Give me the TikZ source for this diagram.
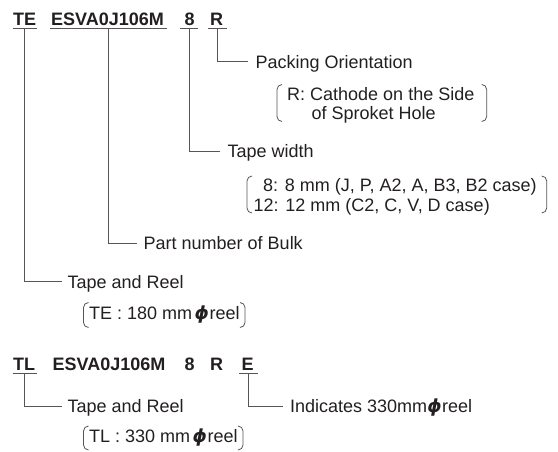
\documentclass[tikz,border=0pt]{standalone}
\usepackage{fontspec}
\setmainfont{Liberation Sans}
\newfontfamily\phifont{DejaVu Sans}
\usetikzlibrary{calc}
\definecolor{ink}{HTML}{231F20}
\definecolor{rulec}{HTML}{555555}
\tikzset{
  code/.style={font=\fontsize{18}{20}\selectfont\bfseries, text=ink, inner sep=0pt, anchor=base west},
  lbl/.style={font=\fontsize{18}{20}\selectfont, text=ink, inner sep=0pt, anchor=base west},
  uline/.style={draw=rulec, line width=0.9pt},
  conn/.style={draw=rulec, line width=0.9pt},
  brk/.style={draw=rulec, line width=0.8pt, rounded corners=5pt},
}
\newcommand{\phisym}{{\phifont\bfseries\itshape ϕ}}
\newcommand{\Lbrk}[3]{\draw[brk] (#1+5,#2) -- (#1,#2) -- (#1,#3) -- (#1+5,#3);}
\newcommand{\Rbrk}[3]{\draw[brk] (#1-5,#2) -- (#1,#2) -- (#1,#3) -- (#1-5,#3);}
\begin{document}
\begin{tikzpicture}[x=1pt,y=-1pt]
\useasboundingbox (0,0) rectangle (558,451);

% ---- first code row ----
\node[code] (te) at (13,25) {TE};
\node[code] (esva) at (51,25) {ESVA0J106M};
\node[code] (w8) at (184.5,25) {8};
\node[code] (r) at (210,25) {R};

\coordinate (teU) at (24.7,28.3);
\coordinate (esU) at (108.3,28.3);
\coordinate (w8U) at (189,28.3);
\coordinate (rU) at (217.3,28.3);
\draw[uline] (12.7,28.3) -- (36.7,28.3);
\draw[uline] (50,28.3) -- (166.7,28.3);
\draw[uline] (180,28.3) -- (198,28.3);
\draw[uline] (208,28.3) -- (226.7,28.3);

% labels
\node[lbl] (pack) at (255.5,68) {Packing Orientation};
\node[lbl] (pk1) at (287,100) {R: Cathode on the Side};
\node[lbl] (pk2) at (311.5,119) {of Sproket Hole};
\node[lbl] (tw) at (227.5,157.5) {Tape width};
\node[lbl] (tw1) at (263,191) {8: 8 mm (J, P, A2, A, B3, B2 case)};
\node[lbl] (tw2) at (253.5,211) {12: 12 mm (C2, C, V, D case)};
\node[lbl] (part) at (143.5,249.8) {Part number of Bulk};
\node[lbl] (tr1) at (67.5,288.2) {Tape and Reel};
\node[lbl] (te1) at (89,319.5) {TE : 180 mm\hspace{2.5pt}\phisym\hspace{0.5pt}reel};

\coordinate (packIn) at ($(pack.base west)+(-8,-6.4)$);
\coordinate (twIn) at ($(tw.base west)+(-7.5,-6.4)$);
\coordinate (partIn) at ($(part.base west)+(-7,-6.4)$);
\coordinate (tr1In) at ($(tr1.base west)+(-6,-6.4)$);

\draw[conn] (rU) |- (packIn);
\draw[conn] (w8U) |- (twIn);
\draw[conn] (esU) |- (partIn);
\draw[conn] (teU) |- (tr1In);

\Lbrk{277}{84.5}{121.5}
\Rbrk{486.7}{84.5}{121.5}
\Lbrk{247}{176}{213}
\Rbrk{546.7}{176}{213}
\Lbrk{83.5}{302.5}{327.5}
\Rbrk{245}{302.5}{327.5}

% ---- second code row ----
\node[code] (tl) at (13,370) {TL};
\node[code] (esva2) at (52.5,370) {ESVA0J106M};
\node[code] (b8) at (184.5,370) {8};
\node[code] (br) at (210,370) {R};
\node[code] (be) at (241.5,370) {E};

\coordinate (tlU) at (24.7,373.3);
\coordinate (beU) at (248.8,373.3);
\draw[uline] (12.7,373.3) -- (36.7,373.3);
\draw[uline] (239.3,373.3) -- (258.3,373.3);

\node[lbl] (tr2) at (67.5,412.5) {Tape and Reel};
\node[lbl] (tl1) at (89,442.5) {TL : 330 mm\hspace{2.5pt}\phisym\hspace{0.5pt}reel};
\node[lbl] (ind) at (290,412.5) {Indicates 330mm\phisym\hspace{0.5pt}reel};

\coordinate (tr2In) at ($(tr2.base west)+(-6,-6.4)$);
\coordinate (indIn) at ($(ind.base west)+(-7,-6.4)$);
\draw[conn] (tlU) |- (tr2In);
\draw[conn] (beU) |- (indIn);

\Lbrk{83.5}{426}{450}
\Rbrk{243}{426}{450}
\end{tikzpicture}
\end{document}
